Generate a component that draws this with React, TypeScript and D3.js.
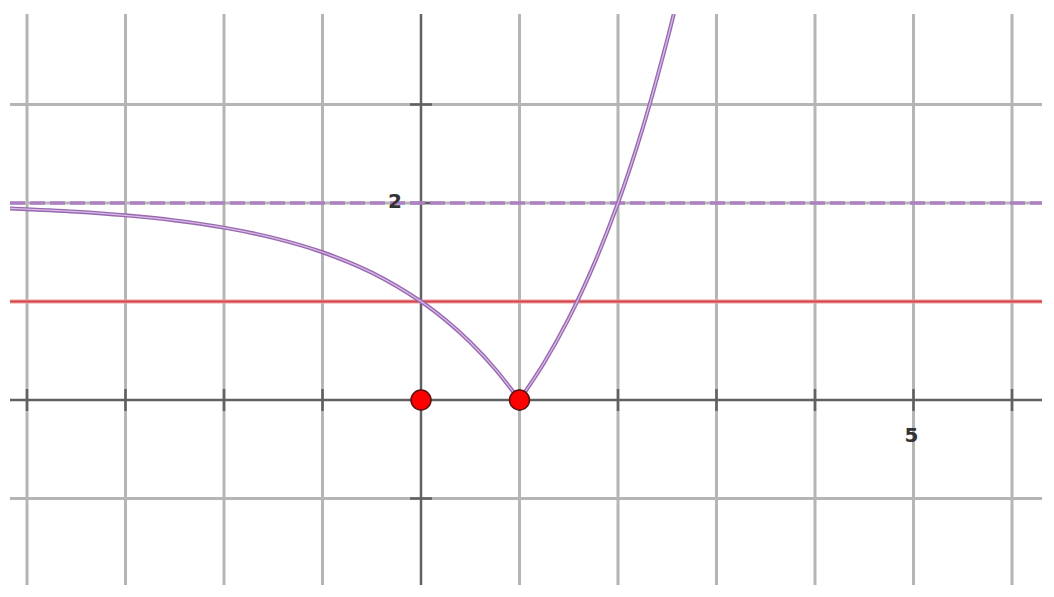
import { useEffect, useRef } from 'react';
import * as d3 from 'd3';

// grid / tick values (units)
const xGrid = [-4, -3, -2, -1, 0, 1, 2, 3, 4, 5, 6];
const yGrid = [-1, 0, 1, 2, 3];
const xLabels = [{ v: 5, t: '5' }];
const yLabels = [{ v: 2, t: '2' }];

// curve, split at the cusp x = 1
const leftX = [-4.2, -3.5, -3, -2.5, -2, -1.5, -1, -0.5, 0, 0.25, 0.5, 0.75, 1];
const leftY = [1.946, 1.912, 1.875, 1.823, 1.75, 1.646, 1.5, 1.293, 1, 0.811, 0.586, 0.318, 0];
const rightX = [1, 1.25, 1.5, 1.75, 2, 2.25, 2.5, 2.6];
const rightY = [0, 0.378, 0.828, 1.364, 2, 2.757, 3.657, 4.06];

const asymptoteY = 2;
const redLineY = 1;
const points = [{ x: 0, y: 0 }, { x: 1, y: 0 }];

export default function App() {
  const svgRef = useRef<SVGSVGElement>(null);
  const width = 1054;
  const height = 597;

  useEffect(() => {
    if (!svgRef.current) return;
    const svg = d3.select(svgRef.current);
    svg.selectAll('*').remove();

    const unit = 98.5;
    const x0 = 421;
    const y0 = 400;
    const left = 10, right = 1042, top = 14, bottom = 585;

    const x = d3.scaleLinear().domain([0, 1]).range([x0, x0 + unit]);
    const y = d3.scaleLinear().domain([0, 1]).range([y0, y0 - unit]);

    svg.append('rect').attr('width', width).attr('height', height).attr('fill', '#fff');

    svg.append('defs').append('clipPath').attr('id', 'plot')
      .append('rect').attr('x', left).attr('y', top)
      .attr('width', right - left).attr('height', bottom - top);

    const grid = svg.append('g').attr('stroke', '#b5b5b5').attr('stroke-width', 3);
    grid.selectAll('.gx').data(xGrid.filter(d => d !== 0)).enter().append('line')
      .attr('x1', d => x(d)).attr('x2', d => x(d))
      .attr('y1', top).attr('y2', bottom);
    grid.selectAll('.gy').data(yGrid.filter(d => d !== 0)).enter().append('line')
      .attr('y1', d => y(d)).attr('y2', d => y(d))
      .attr('x1', left).attr('x2', right);

    // axes
    const axes = svg.append('g').attr('stroke', '#616161').attr('stroke-width', 2.5);
    axes.append('line').attr('x1', left).attr('x2', right).attr('y1', y(0)).attr('y2', y(0));
    axes.append('line').attr('x1', x(0)).attr('x2', x(0)).attr('y1', top).attr('y2', bottom);
    axes.selectAll('.tx').data(xGrid.filter(d => d !== 0)).enter().append('line')
      .attr('x1', d => x(d)).attr('x2', d => x(d))
      .attr('y1', y(0) - 11).attr('y2', y(0) + 11);
    axes.selectAll('.ty').data(yGrid.filter(d => d !== 0)).enter().append('line')
      .attr('y1', d => y(d)).attr('y2', d => y(d))
      .attr('x1', x(0) - 11).attr('x2', x(0) + 11);

    const plot = svg.append('g').attr('clip-path', 'url(#plot)');

    // red line y = 1
    plot.append('line')
      .attr('x1', left).attr('x2', right)
      .attr('y1', y(redLineY)).attr('y2', y(redLineY))
      .attr('stroke', '#f0a0a0').attr('stroke-width', 4);
    plot.append('line')
      .attr('x1', left).attr('x2', right)
      .attr('y1', y(redLineY)).attr('y2', y(redLineY))
      .attr('stroke', '#d4464c').attr('stroke-width', 2);

    // dashed asymptote y = 2
    plot.append('line')
      .attr('x1', left).attr('x2', right)
      .attr('y1', y(asymptoteY)).attr('y2', y(asymptoteY))
      .attr('stroke', '#ad80c4').attr('stroke-width', 3.5)
      .attr('stroke-dasharray', '15 5');

    const line = d3.line<[number, number]>()
      .x(d => x(d[0])).y(d => y(d[1]))
      .curve(d3.curveCatmullRom.alpha(0.5));

    const branches: [number, number][][] = [
      leftX.map((v, i) => [v, leftY[i]]),
      rightX.map((v, i) => [v, rightY[i]]),
    ];
    branches.forEach(b => {
      plot.append('path').attr('d', line(b)!)
        .attr('fill', 'none').attr('stroke', '#9a68b2').attr('stroke-width', 4)
        .attr('stroke-linejoin', 'miter');
      plot.append('path').attr('d', line(b)!)
        .attr('fill', 'none').attr('stroke', '#d6bde3').attr('stroke-width', 1.3);
    });

    // labels
    const font = 'DejaVu Sans, sans-serif';
    svg.selectAll('.xl').data(xLabels).enter().append('text')
      .attr('x', d => x(d.v) - 2).attr('y', y(0) + 42)
      .attr('text-anchor', 'middle').attr('font-family', font)
      .attr('font-size', 20).attr('font-weight', 'bold').attr('fill', '#333')
      .text(d => d.t);
    svg.selectAll('.yl').data(yLabels).enter().append('text')
      .attr('x', x(0) - 20).attr('y', d => y(d) + 5)
      .attr('text-anchor', 'end').attr('font-family', font)
      .attr('font-size', 20).attr('font-weight', 'bold').attr('fill', '#333')
      .attr('x', x(0) - 19)
      .attr('y', d => y(d.v) + 5)
      .text(d => d.t);

    // points
    svg.selectAll('.pt').data(points).enter().append('circle')
      .attr('cx', d => x(d.x)).attr('cy', d => y(d.y)).attr('r', 10)
      .attr('fill', '#ff0000').attr('stroke', '#5a1010').attr('stroke-width', 1.5);
  }, []);

  return (
    <div style={{ position: 'fixed', left: 0, top: 0 }}>
      <svg ref={svgRef} width={width} height={height} style={{ display: 'block' }} />
    </div>
  );
}
